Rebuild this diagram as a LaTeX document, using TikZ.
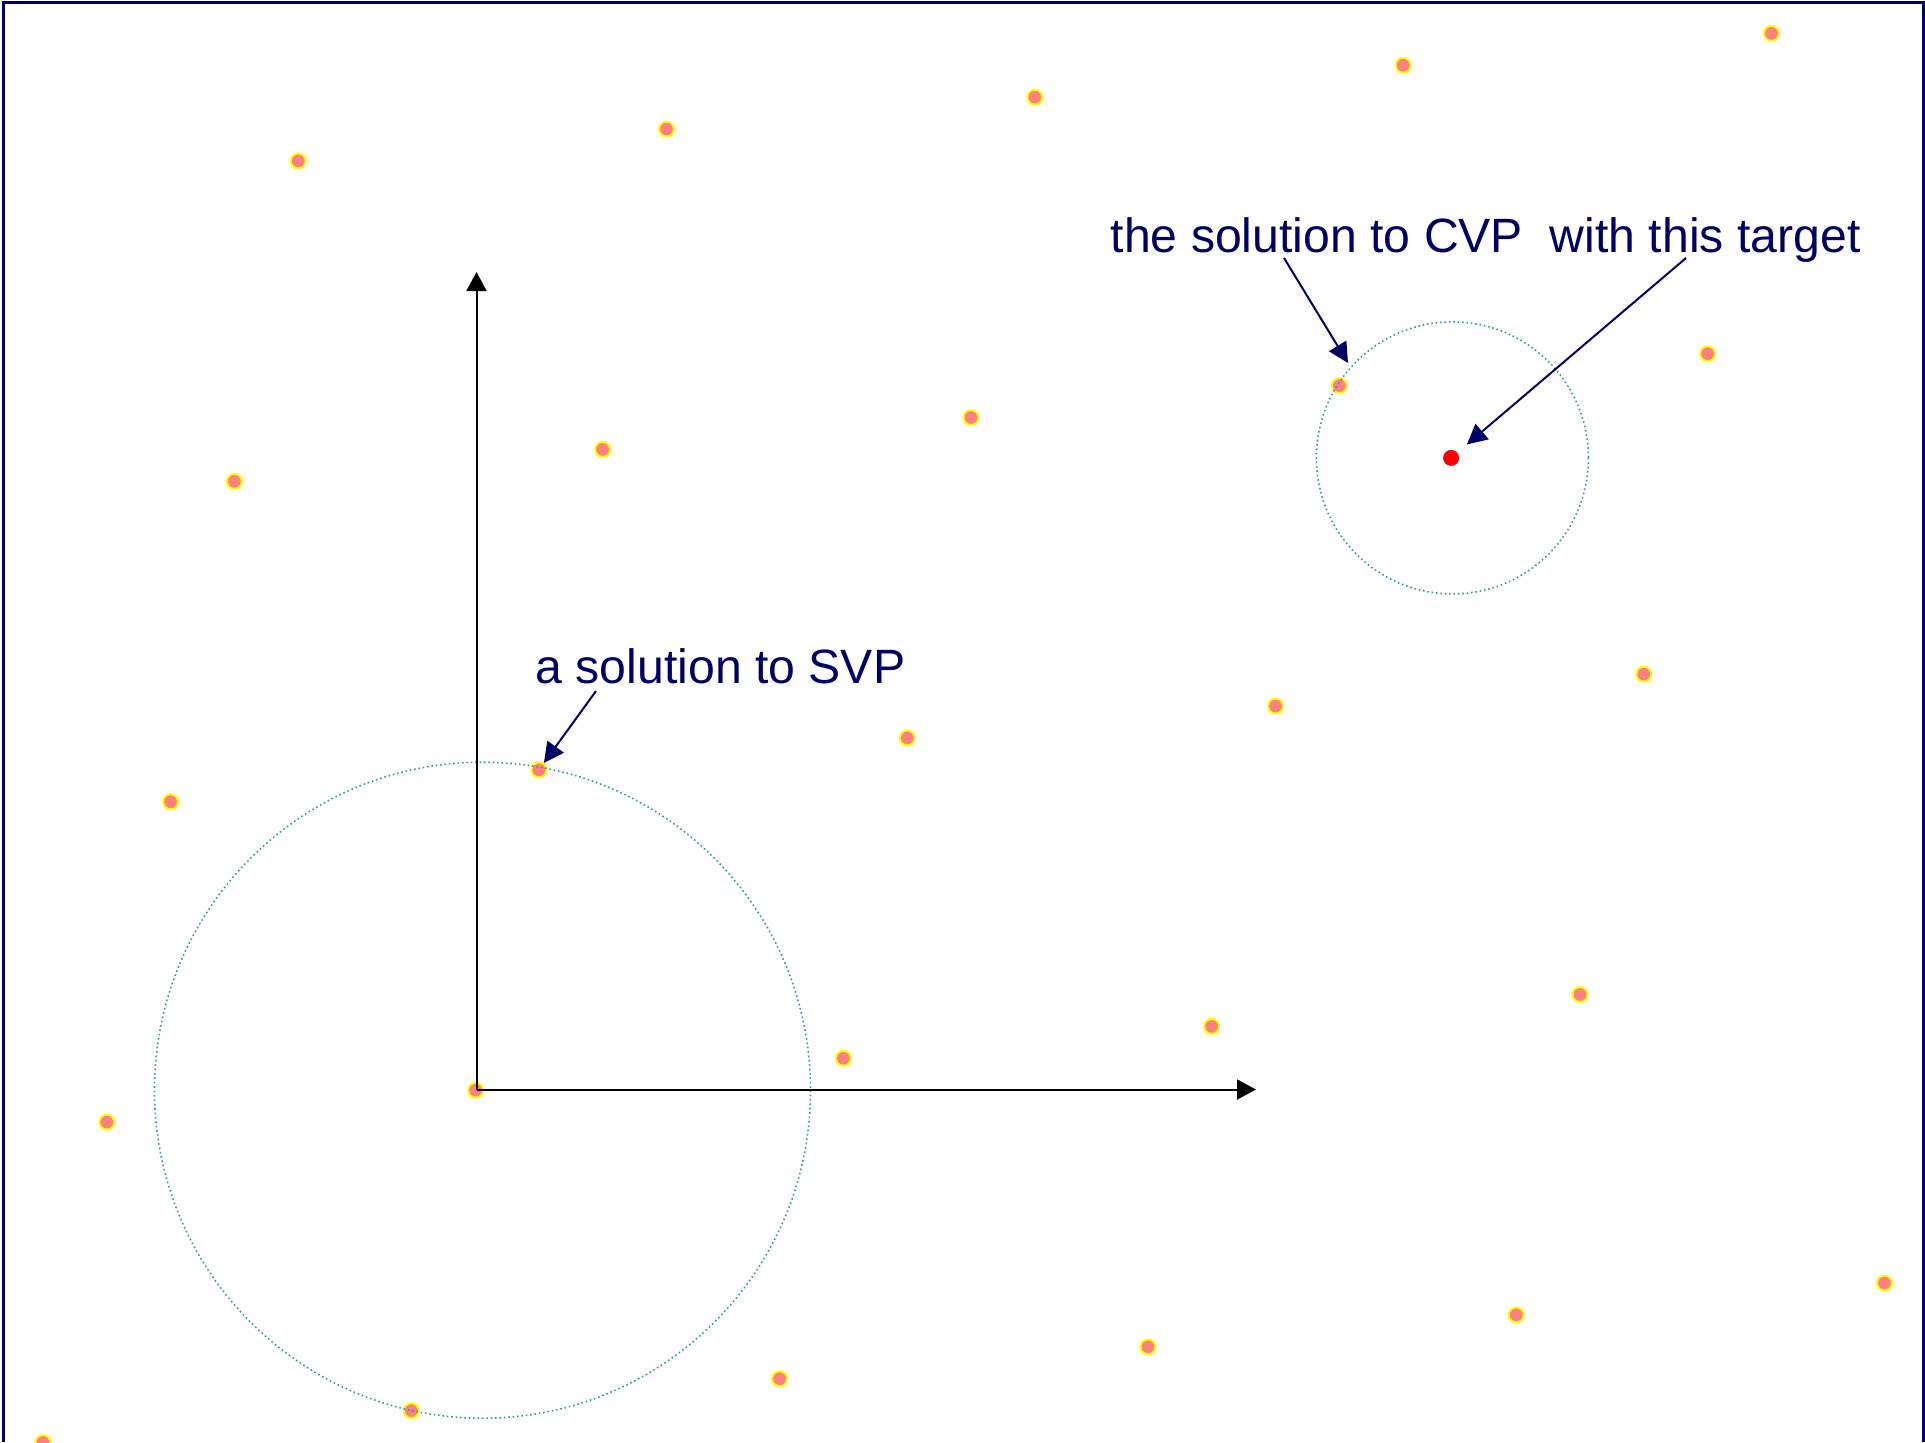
\documentclass[tikz,border=0pt]{standalone}
\usepackage{fontspec}
\setmainfont{Liberation Sans}
\usetikzlibrary{arrows.meta}
\definecolor{navy}{HTML}{000066}
\definecolor{latpink}{HTML}{FF8080}
\definecolor{latyellow}{HTML}{FFFF00}
\definecolor{ballteal}{HTML}{339999}

\begin{document}
\begin{tikzpicture}[
  x=0.01cm, y=-0.01cm,
  pt/.style={circle, draw=latyellow, fill=latpink, line width=0.02cm,
             minimum size=0.15cm, inner sep=0pt},
  target/.style={circle, fill=red, minimum size=0.16cm, inner sep=0pt},
  ball/.style={draw=ballteal, line width=0.45pt, dash pattern=on 0.45pt off 0.8pt},
  axis/.style={-{Triangle[length=0.19cm, width=0.2cm]}, line width=0.02cm, black},
  ptr/.style={-{Triangle[length=0.2cm, width=0.2cm]}, line width=0.02cm, navy},
  lbl/.style={font=\fontsize{13.7}{16}\selectfont, text=navy, inner sep=0pt, anchor=base west}
]
  \useasboundingbox (0,0) rectangle (1925,1442);
  \draw[navy, line width=0.025cm] (3.5,1442) -- (3.5,2.5) -- (1923.5,2.5) -- (1923.5,1442);

  % lattice points, row by row
  \node[pt] (p-m1-3) at (298.2,160.9) {};
  \node[pt] (p-0-3)  at (666.5,129.0) {};
  \node[pt] (p-1-3)  at (1034.8,97.1) {};
  \node[pt] (p-2-3)  at (1403.1,65.2) {};
  \node[pt] (p-3-3)  at (1771.4,33.3) {};

  \node[pt] (p-m1-2) at (234.4,481.3) {};
  \node[pt] (p-0-2)  at (602.7,449.4) {};
  \node[pt] (p-1-2)  at (971.0,417.5) {};
  \node[pt] (p-2-2)  at (1339.3,385.6) {};
  \node[pt] (p-3-2)  at (1707.6,353.7) {};

  \node[pt] (p-m1-1) at (170.6,801.7) {};
  \node[pt] (p-0-1)  at (538.9,769.8) {};
  \node[pt] (p-1-1)  at (907.2,737.9) {};
  \node[pt] (p-2-1)  at (1275.5,706.0) {};
  \node[pt] (p-3-1)  at (1643.8,674.1) {};

  \node[pt] (p-m1-0) at (106.8,1122.1) {};
  \node[pt] (p-0-0)  at (475.6,1090.2) {};
  \node[pt] (p-1-0)  at (843.4,1058.3) {};
  \node[pt] (p-2-0)  at (1211.7,1026.4) {};
  \node[pt] (p-3-0)  at (1580.0,994.5) {};

  \node[pt] (p-m1-m1) at (43.0,1442.5) {};
  \node[pt] (p-0-m1)  at (411.3,1410.6) {};
  \node[pt] (p-1-m1)  at (779.6,1378.7) {};
  \node[pt] (p-2-m1)  at (1147.9,1346.8) {};
  \node[pt] (p-3-m1)  at (1516.2,1314.9) {};
  \node[pt] (p-4-m1)  at (1884.5,1283.0) {};

  \node[target] (tgt) at (1451.1,457.9) {};

  % balls
  \draw[ball] (482.5,1090.2) circle [radius=328];
  \draw[ball] (1452.4,457.9) circle [radius=136];

  % axes
  \coordinate (xtip) at (1256,1089.5);
  \coordinate (ytip) at (476.5,272);
  \draw[axis] (476.5,1089.5) -- (xtip);
  \draw[axis] (476.5,1089.5) -- (ytip);

  % labels
  \node[lbl] (cvplbl) at (1110,252) {the solution to CVP\ \ with this target};
  \node[lbl] (svplbl) at (535,683) {a solution to SVP};

  \coordinate (svpfrom) at (596,691);
  \coordinate (cvpfrom) at (1284,258);
  \coordinate (cvptip)  at (1348,363);
  \coordinate (tgtfrom) at (1686,258);
  \draw[ptr] (svpfrom) -- (p-0-1);
  \draw[ptr] (cvpfrom) -- (cvptip);
  \draw[ptr, shorten >=0.12cm] (tgtfrom) -- (tgt);
\end{tikzpicture}
\end{document}
